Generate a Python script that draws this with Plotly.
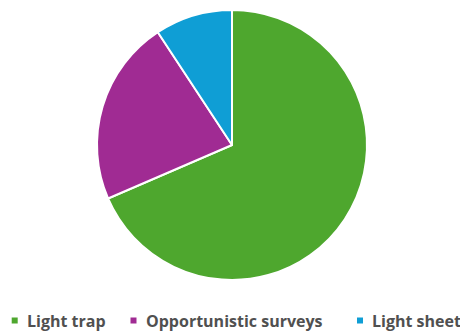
import plotly.graph_objects as go

labels = ["Light trap", "Opportunistic surveys", "Light sheet"]
values = [74, 24, 10]
colors = ["#4EA72E", "#A02B93", "#0F9ED5"]

W, H = 460, 331
fig = go.Figure(go.Pie(
    labels=labels, values=values, sort=False, direction="clockwise", rotation=0,
    marker=dict(colors=colors, line=dict(color="white", width=2)),
    textinfo="none", hoverinfo="label+value", showlegend=False,
    domain=dict(x=[4/W, 1], y=[1 - 280/H, 1 - 10/H]),
))

# legend drawn as small squares + text
sq_x = [14.7, 133.5, 360.0]
tx_x = [25, 144, 370]
yc = 320.5
for lab, col, sx, tx in zip(labels, colors, sq_x, tx_x):
    fig.add_shape(type="rect", xref="paper", yref="paper",
                  x0=(sx - 3) / W, x1=(sx + 3) / W,
                  y0=1 - (yc + 3) / H, y1=1 - (yc - 3) / H,
                  fillcolor=col, line=dict(width=0))
    fig.add_annotation(text=lab, xref="paper", yref="paper",
                       x=tx / W, y=1 - yc / H, xanchor="left", yanchor="middle",
                       showarrow=False,
                       font=dict(family="Open Sans", size=16, color="#505050", weight="bold"))

fig.update_layout(
    width=W, height=H, margin=dict(l=0, r=0, t=0, b=0),
    paper_bgcolor="white", plot_bgcolor="white",
    showlegend=False,
)
fig.write_html("out.html")
